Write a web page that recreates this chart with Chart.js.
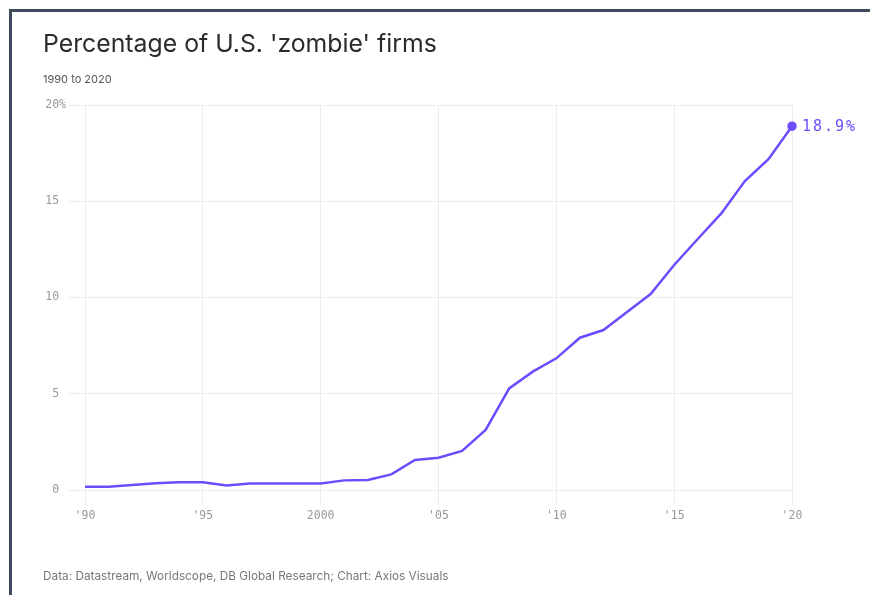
<!DOCTYPE html>
<html>
<head>
<meta charset="utf-8">
<script src="https://cdn.jsdelivr.net/npm/chart.js@4/dist/chart.umd.min.js"></script>
<style>
  html, body { margin: 0; padding: 0; background: #fff; }
  body { width: 870px; height: 595px; position: relative; overflow: hidden; font-family: Inter, sans-serif; }
  #frame { position: absolute; left: 9px; top: 9px; width: 900px; height: 700px;
    border-top: 3px solid #3d4b5d; border-left: 3px solid #3d4b5d; }
  canvas { position: absolute; left: 0; top: 0; }
  .txt { position: absolute; left: 43px; line-height: 1; white-space: nowrap; }
  #title { top: 30.5px; font-size: 24.8px; color: #2b2b2b; }
  #sub { top: 73.5px; font-size: 11px; color: #555; }
  #src { top: 571px; font-size: 11.8px; color: #777; }
</style>
</head>
<body>
<div id="frame"></div>
<canvas id="zombie" width="870" height="595"></canvas>
<div class="txt" id="title">Percentage of U.S. 'zombie' firms</div>
<div class="txt" id="sub">1990 to 2020</div>
<div class="txt" id="src">Data: Datastream, Worldscope, DB Global Research; Chart: Axios Visuals</div>
<script>
const years = [1990, 1991, 1992, 1993, 1994, 1995, 1996, 1997, 1998, 1999,
  2000, 2001, 2002, 2003, 2004, 2005, 2006, 2007, 2008, 2009,
  2010, 2011, 2012, 2013, 2014, 2015, 2016, 2017, 2018, 2019, 2020]
const zombieShare = [0.17, 0.17, 0.26, 0.35, 0.4, 0.4, 0.24, 0.34, 0.34, 0.34,
  0.34, 0.5, 0.52, 0.81, 1.56, 1.68, 2.03, 3.12, 5.28, 6.15,
  6.84, 7.91, 8.31, 9.25, 10.18, 11.69, 13.04, 14.37, 16.05, 17.18, 18.9]

const xTickYears = [1990, 1995, 2000, 2005, 2010, 2015, 2020]
const xTickText = ["'90", "'95", '2000', "'05", "'10", "'15", "'20"]
const yTickValues = [0, 5, 10, 15, 20]
const yTickText = ['0 ', '5 ', '10 ', '15 ', '20%']

const purple = '#6f4bff'
const tickFont = { family: '"DejaVu Sans Mono", monospace', size: 11.5 }

const endLabel = {
  id: 'endLabel',
  afterDatasetsDraw (chart) {
    const meta = chart.getDatasetMeta(0)
    const last = meta.data[meta.data.length - 1]
    const ctx = chart.ctx
    ctx.save()
    ctx.font = '15px "DejaVu Sans Mono", monospace'
    ctx.letterSpacing = '2px'
    ctx.fillStyle = purple
    ctx.textBaseline = 'middle'
    ctx.fillText(zombieShare[zombieShare.length - 1] + '%', last.x + 10, last.y + 1)
    ctx.restore()
  }
}

new Chart(document.getElementById('zombie'), {
  type: 'line',
  data: {
    datasets: [{
      data: years.map((y, i) => ({ x: y, y: zombieShare[i] })),
      borderColor: purple,
      backgroundColor: purple,
      borderWidth: 2.5,
      tension: 0,
      clip: false,
      pointRadius: (c) => c.dataIndex === years.length - 1 ? 3.5 : 0,
      pointHoverRadius: 0
    }]
  },
  options: {
    responsive: false,
    animation: false,
    layout: { padding: { left: 25, right: 78, top: 105, bottom: 65 } },
    plugins: { legend: { display: false }, tooltip: { enabled: false } },
    scales: {
      x: {
        type: 'linear',
        min: 1990,
        max: 2020,
        afterFit: (s) => { s.height = 40 },
        afterBuildTicks: (s) => { s.ticks = xTickYears.map(v => ({ value: v })) },
        grid: { color: '#ececec', tickLength: 15, lineWidth: 1 },
        border: { display: false },
        ticks: {
          color: '#999',
          font: tickFont,
          padding: 4,
          maxRotation: 0,
          callback: (v) => xTickText[xTickYears.indexOf(v)]
        }
      },
      y: {
        min: 0,
        max: 20,
        afterFit: (s) => { s.width = 60 },
        afterBuildTicks: (s) => { s.ticks = yTickValues.map(v => ({ value: v })) },
        grid: { color: '#ececec', tickLength: 17, lineWidth: 1 },
        border: { display: false },
        ticks: {
          color: '#999',
          font: tickFont,
          padding: 2,
          callback: (v) => yTickText[yTickValues.indexOf(v)]
        }
      }
    }
  },
  plugins: [endLabel]
})
</script>
</body>
</html>
